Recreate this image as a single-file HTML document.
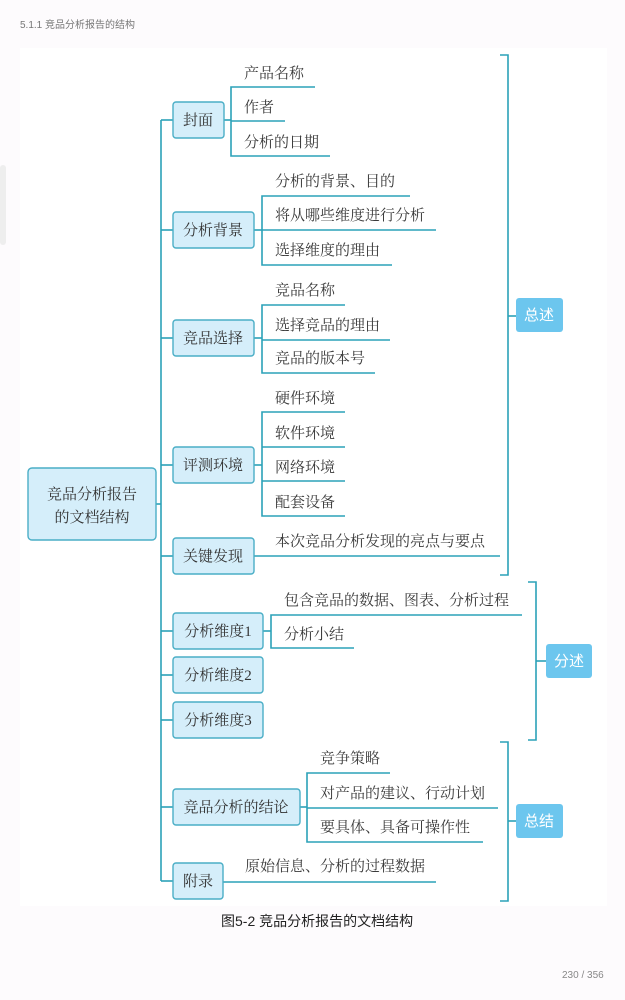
<!DOCTYPE html>
<html><head><meta charset="utf-8"><style>
body{margin:0;background:#fdfbfd;}
svg{display:block}
.t{font-family:"Liberation Serif","Noto Serif CJK SC",serif;font-size:15px;fill:#3a3a3a}
.b{font-family:"Liberation Serif","Noto Serif CJK SC",serif;font-size:15px;fill:#333}
</style></head><body>
<svg width="625" height="1000" xmlns="http://www.w3.org/2000/svg">
<rect x="0" y="0" width="625" height="1000" fill="#fdfbfd"/>
<rect x="0" y="165" width="6" height="80" rx="3" fill="#eeeeee"/>
<text x="20" y="28" font-family="Liberation Sans,Noto Sans CJK SC,sans-serif" font-size="10" fill="#777">5.1.1 竞品分析报告的结构</text>
<rect x="20" y="48" width="587" height="858" fill="#ffffff"/>
<g stroke="#2ba2b8" stroke-width="1.6" fill="none">
<!-- root & spine -->
<line x1="156" y1="504" x2="161" y2="504"/>
<line x1="161" y1="120" x2="161" y2="881"/>
<line x1="161" y1="120" x2="173" y2="120"/><line x1="161" y1="230" x2="173" y2="230"/>
<line x1="161" y1="338" x2="173" y2="338"/><line x1="161" y1="465" x2="173" y2="465"/>
<line x1="161" y1="556" x2="173" y2="556"/><line x1="161" y1="631" x2="173" y2="631"/>
<line x1="161" y1="675" x2="173" y2="675"/><line x1="161" y1="720" x2="173" y2="720"/>
<line x1="161" y1="807" x2="173" y2="807"/><line x1="161" y1="881" x2="173" y2="881"/>
<!-- 封面 -->
<line x1="224" y1="120" x2="231" y2="120"/>
<path d="M315 87H231V156H330"/><line x1="231" y1="121" x2="285" y2="121"/>
<!-- 分析背景 -->
<line x1="254" y1="230" x2="262" y2="230"/>
<path d="M410 196H262V265H392"/><line x1="262" y1="230" x2="436" y2="230"/>
<!-- 竞品选择 -->
<line x1="254" y1="338" x2="262" y2="338"/>
<path d="M345 305H262V373H375"/><line x1="262" y1="340" x2="390" y2="340"/>
<!-- 评测环境 -->
<line x1="254" y1="465" x2="262" y2="465"/>
<path d="M345 412H262V516H345"/><line x1="262" y1="447" x2="345" y2="447"/><line x1="262" y1="481" x2="345" y2="481"/>
<!-- 关键发现 -->
<line x1="254" y1="556" x2="500" y2="556"/>
<!-- 维度1 -->
<line x1="263" y1="631" x2="271" y2="631"/>
<path d="M522 615H271V648H354"/>
<!-- 结论 -->
<line x1="300" y1="807" x2="307" y2="807"/>
<path d="M390 773H307V842H483"/><line x1="307" y1="808" x2="498" y2="808"/>
<!-- 附录 -->
<line x1="223" y1="882" x2="436" y2="882"/>
<!-- right brackets -->
<path d="M500 55H508V575H500"/><line x1="508" y1="316" x2="516" y2="316"/>
<path d="M528 582H536V740H528"/><line x1="536" y1="661" x2="546" y2="661"/>
<path d="M500 742H508V901H500"/><line x1="508" y1="821" x2="516" y2="821"/>
</g>
<g fill="#d5eefa" stroke="#4aaec6" stroke-width="1.4">
<rect x="28" y="468" width="128" height="72" rx="4"/>
<rect x="173" y="102" width="51" height="36" rx="3"/>
<rect x="173" y="212" width="81" height="36" rx="3"/>
<rect x="173" y="320" width="81" height="36" rx="3"/>
<rect x="173" y="447" width="81" height="36" rx="3"/>
<rect x="173" y="538" width="81" height="36" rx="3"/>
<rect x="173" y="613" width="90" height="36" rx="3"/>
<rect x="173" y="657" width="90" height="36" rx="3"/>
<rect x="173" y="702" width="90" height="36" rx="3"/>
<rect x="173" y="789" width="127" height="36" rx="3"/>
<rect x="173" y="863" width="50" height="36" rx="3"/>
</g>
<g fill="#6cc6ee">
<rect x="516" y="298" width="47" height="34" rx="3"/>
<rect x="546" y="644" width="46" height="34" rx="3"/>
<rect x="516" y="804" width="47" height="34" rx="3"/>
</g>
<g font-family="Liberation Sans,Noto Sans CJK SC,sans-serif" font-size="15" fill="#fff" text-anchor="middle">
<text x="539" y="320">总述</text><text x="569" y="666">分述</text><text x="539" y="826">总结</text>
</g>
<g class="b" text-anchor="middle">
<text x="92" y="499">竞品分析报告</text><text x="92" y="522">的文档结构</text>
<text x="198" y="125">封面</text><text x="213" y="235">分析背景</text>
<text x="213" y="343">竞品选择</text><text x="213" y="470">评测环境</text>
<text x="213" y="561">关键发现</text><text x="218" y="636">分析维度1</text>
<text x="218" y="680">分析维度2</text><text x="218" y="725">分析维度3</text>
<text x="236" y="812">竞品分析的结论</text><text x="198" y="886">附录</text>
</g>
<g class="t">
<text x="244" y="78">产品名称</text><text x="244" y="112">作者</text><text x="244" y="147">分析的日期</text>
<text x="275" y="186">分析的背景、目的</text><text x="275" y="220">将从哪些维度进行分析</text><text x="275" y="255">选择维度的理由</text>
<text x="275" y="295">竞品名称</text><text x="275" y="330">选择竞品的理由</text><text x="275" y="363">竞品的版本号</text>
<text x="275" y="403">硬件环境</text><text x="275" y="438">软件环境</text><text x="275" y="472">网络环境</text><text x="275" y="507">配套设备</text>
<text x="275" y="546">本次竞品分析发现的亮点与要点</text>
<text x="284" y="605">包含竞品的数据、图表、分析过程</text><text x="284" y="639">分析小结</text>
<text x="320" y="763">竞争策略</text><text x="320" y="798">对产品的建议、行动计划</text><text x="320" y="832">要具体、具备可操作性</text>
<text x="245" y="871">原始信息、分析的过程数据</text>
</g>
<text x="221" y="926" font-family="Liberation Sans,Noto Sans CJK SC,sans-serif" font-size="14" fill="#222">图5-2 竞品分析报告的文档结构</text>
<text x="562" y="978" font-family="Liberation Sans,sans-serif" font-size="10" fill="#888">230 / 356</text>
</svg>
</body></html>
